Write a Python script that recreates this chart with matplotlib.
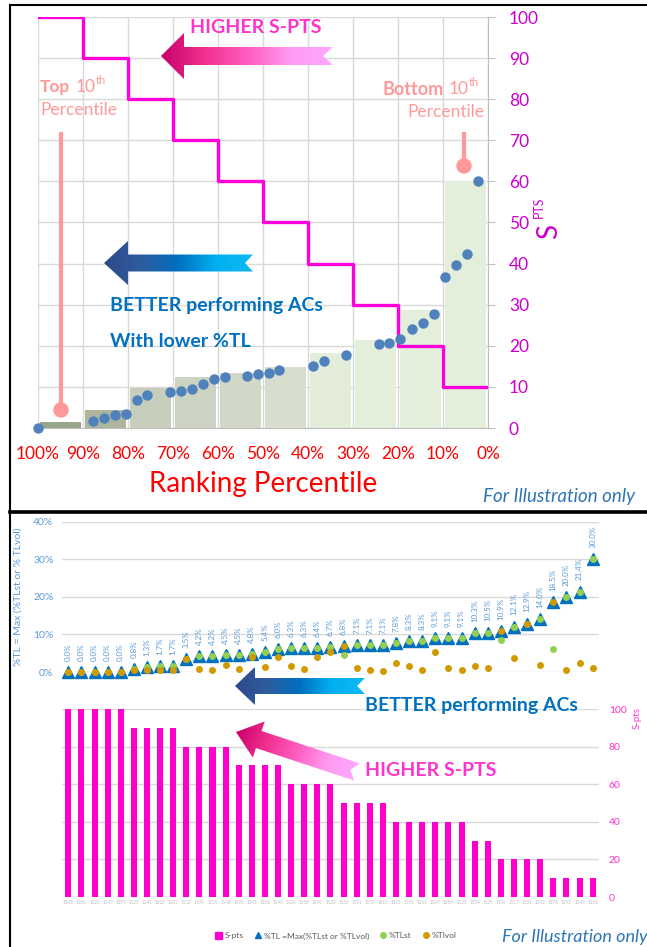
import numpy as np
import matplotlib.pyplot as plt
from matplotlib.patches import Polygon, Circle, Patch
from matplotlib.lines import Line2D
from matplotlib.colors import LinearSegmentedColormap

# ---- top panel data (ranking percentile view) ----
pct_ticks = [100, 90, 80, 70, 60, 50, 40, 30, 20, 10, 0]
decile_mid = [95, 85, 75, 65, 55, 45, 35, 25, 15, 5]
decile_tl = [1.45, 4.5, 9.7, 12.3, 13.5, 14.8, 18.3, 21.4, 28.6, 60]
decile_colors = ['#9AA68A', '#ADB69D', '#C8CEBC', '#CDD3C2', '#D2D8C7', '#D8DECE',
                 '#E3EDD9', '#E3EFDA', '#E3EFDA', '#E3EFDA']
decile_spts = [100, 90, 80, 70, 60, 50, 40, 30, 20, 10, 10]

top_pct = [100, 87.8, 85.4, 82.9, 80.5, 78.1, 75.7, 70.7, 68.3, 65.8, 63.4, 61.0, 58.5,
           53.6, 51.2, 48.7, 46.4, 38.8, 36.4, 31.6, 24.3, 21.9, 19.5, 16.9, 14.5,
           11.9, 9.6, 7.2, 4.7, 2.2]
top_tl = [0, 1.6, 2.4, 3.2, 3.4, 6.7, 8.1, 8.7, 8.9, 9.6, 10.7, 11.9, 12.3,
          12.7, 13.1, 13.3, 14.0, 15.2, 16.2, 17.7, 20.4, 20.8, 21.7, 24.0, 25.6,
          27.8, 36.7, 39.7, 42.4, 60]

# ---- bottom panel data (per AC) ----
ac_ids = ['1008', '1136', '1023', '1147', '1097', '1125', '1041', '1022', '1087', '1132',
          '1109', '1139', '1148', '1092', '1095', '1088', '1140', '1106', '1158', '1099',
          '1122', '1133', '1111', '1059', '1010', '1115', '1153', '1066', '1009', '1084',
          '1123', '1034', '1129', '1136', '1117', '1131', '1052', '1078', '1093', '1049',
          '1018']
spts = [100, 100, 100, 100, 100, 90, 90, 90, 90, 80, 80, 80, 80, 70, 70, 70, 70,
        60, 60, 60, 60, 50, 50, 50, 50, 40, 40, 40, 40, 40, 40, 30, 30,
        20, 20, 20, 20, 10, 10, 10, 10]
tl = [0.0, 0.0, 0.0, 0.0, 0.0, 0.8, 1.3, 1.7, 1.7, 3.5, 4.2, 4.2, 4.5, 4.5, 4.8, 5.4,
      6.0, 6.3, 6.3, 6.4, 6.7, 6.8, 7.1, 7.1, 7.1, 7.8, 8.3, 8.3, 9.1, 9.1, 9.1, 10.3,
      10.5, 10.9, 12.1, 12.9, 14.0, 18.5, 20.0, 21.4, 30.0]
tl_st = [0.0, 0.0, 0.0, 0.0, 0.0, 0.8, 1.3, 1.7, 1.7, 3.5, 4.2, 4.2, 4.5, 4.5, 4.8, 5.4,
         6.0, 6.3, 6.3, 6.4, 6.7, 4.6, 7.1, 7.1, 7.1, 7.8, 8.3, 8.3, 9.1, 9.1, 9.1, 10.3,
         10.5, 8.5, 12.1, 12.9, 14.0, 6.2, 20.0, 21.4, 30.0]
tl_vol = [0.0, 0.0, 0.0, 0.0, 0.0, 0.6, 0.4, 0.4, 0.4, 3.5, 0.7, 0.4, 1.75, 0.9, 3.9, 1.3,
          3.9, 1.6, 0.9, 3.9, 5.4, 6.8, 1.0, 0.6, 0.35, 2.3, 1.6, 0.4, 5.4, 1.0, 0.6, 1.5,
          1.0, 10.9, 3.8, 12.9, 1.75, 18.5, 0.6, 2.3, 1.0]

plt.rcParams['font.family'] = ['Lato', 'DejaVu Sans']

W, H = 647, 947
fig = plt.figure(figsize=(W / 100, H / 100), dpi=100)


def box(x0, y0, x1, y1):
    # pixel box (top-left origin) -> figure fraction rect
    return [x0 / W, 1 - y1 / H, (x1 - x0) / W, (y1 - y0) / H]


# ================= top chart =================
ax = fig.add_axes(box(38, 17, 488, 428))
ax.set_xlim(100, 0)
ax.set_ylim(0, 100)
ax.bar(decile_mid, decile_tl, width=9.3, color=decile_colors, zorder=2)
ax.step(pct_ticks, decile_spts, where='post', color='#FF00DD', lw=2.4, zorder=3)
ax.plot(top_pct, top_tl, 'o', ms=7.5, color='#4F81BD', mec='none', zorder=4, clip_on=False)
ax.set_xticks(pct_ticks)
ax.set_xticklabels([f'{p}%' for p in pct_ticks])
ax.set_yticks(range(0, 101, 10))
ax.yaxis.tick_right()
ax.tick_params(axis='y', colors='#BFBFBF', labelcolor='#CC00CC', length=5, pad=10, labelsize=12.5)
ax.tick_params(axis='x', length=0, pad=13, labelcolor='#FF0000', labelsize=12.5)
ax.grid(color='#D9D9D9', lw=1)
ax.set_axisbelow(True)
for s in ['left', 'top']:
    ax.spines[s].set_visible(False)
for s in ['right', 'bottom']:
    ax.spines[s].set_color('#BFBFBF')

# ================= middle chart (%TL) =================
x = np.arange(len(tl))
ax2 = fig.add_axes(box(61.75, 521.7, 599.2, 672))
ax2.set_xlim(-0.5, 40.5)
ax2.set_ylim(0, 0.4)
ax2.plot(x, np.array(tl) / 100, '^', ms=8.5, color='#0070C0', zorder=3, clip_on=False)
ax2.plot(x, np.array(tl_st) / 100, 'o', ms=4, color='#92D050', zorder=4, clip_on=False)
ax2.plot(x, np.array(tl_vol) / 100, 'o', ms=4, color='#D09A00', zorder=5, clip_on=False)
for xi, v in zip(x, tl):
    ax2.annotate(f'{v:.1f}%', (xi, v / 100), xytext=(0, 8), textcoords='offset points',
                 rotation=90, ha='center', va='bottom', fontsize=5.8, color='#5B9BD5')
ax2.set_yticks([0, 0.1, 0.2, 0.3, 0.4])
ax2.set_yticklabels(['0%', '10%', '20%', '30%', '40%'])
ax2.set_xticks([])
ax2.tick_params(axis='y', length=0, pad=6, labelsize=7.5, labelcolor='#5B9BD5')
ax2.grid(axis='y', color='#D9D9D9', lw=1)
ax2.set_axisbelow(True)
for s in ax2.spines.values():
    s.set_visible(False)

# ================= bottom chart (S-pts bars) =================
ax3 = fig.add_axes(box(61.75, 709, 599.2, 897))
ax3.set_xlim(-0.5, 40.5)
ax3.set_ylim(0, 100)
ax3.bar(x, spts, width=0.46, color='#FF00CC', zorder=2)
ax3.set_yticks(range(0, 101, 20))
ax3.yaxis.tick_right()
ax3.tick_params(axis='y', length=0, pad=7, labelsize=7.5, labelcolor='#FF33CC')
ax3.set_xticks(x)
ax3.set_xticklabels(ac_ids)
ax3.tick_params(axis='x', length=0, pad=2, labelsize=3.3, labelcolor='#BFBFBF')
ax3.grid(axis='y', color='#D9D9D9', lw=1)
ax3.set_axisbelow(True)
for s in ax3.spines.values():
    s.set_visible(False)

handles = [Patch(color='#FF00CC'),
           Line2D([], [], marker='^', ls='none', color='#0070C0', ms=5),
           Line2D([], [], marker='o', ls='none', color='#92D050', ms=4),
           Line2D([], [], marker='o', ls='none', color='#D09A00', ms=4)]
fig.legend(handles, ['S-pts', '%TL =Max(%TLst or %TLvol)', '%TLst', '%Tlvol'],
           loc='center', bbox_to_anchor=(336 / W, 1 - 936 / H), ncol=4, frameon=False,
           fontsize=6, handlelength=0.8, handleheight=0.8, handletextpad=0.3,
           columnspacing=1.3, labelcolor='#595959')

# ================= overlay (arrows, notes, frame) =================
ov = fig.add_axes([0, 0, 1, 1], zorder=10)
ov.set_xlim(0, W)
ov.set_ylim(H, 0)
ov.axis('off')


def arrow_poly(tip, tail, hl, hw, sw, notch):
    tip = np.array(tip, float)
    tail = np.array(tail, float)
    u = (tail - tip) / np.linalg.norm(tail - tip)
    v = np.array([-u[1], u[0]])
    hb = tip + u * hl
    return [tip, hb + v * hw, hb + v * sw, tail + v * sw, tail - u * notch,
            tail - v * sw, hb - v * sw, hb - v * hw]


def grad_arrow(tip, tail, hl, hw, sw, notch, colors):
    pts = np.array(arrow_poly(tip, tail, hl, hw, sw, notch))
    patch = Polygon(pts, closed=True, fc='none', ec='none')
    ov.add_patch(patch)
    x0, y0 = pts.min(0)
    x1, y1 = pts.max(0)
    gx, gy = np.meshgrid(np.linspace(x0, x1, 300), np.linspace(y0, y1, 300))
    d = np.array(tail, float) - np.array(tip, float)
    t = ((gx - tip[0]) * d[0] + (gy - tip[1]) * d[1]) / (d @ d)
    cmap = LinearSegmentedColormap.from_list('g', colors)
    im = ov.imshow(np.clip(t, 0, 1), extent=(x0, x1, y0, y1), origin='lower', cmap=cmap,
                   vmin=0, vmax=1, aspect='auto', interpolation='bilinear', zorder=5)
    im.set_clip_path(patch)


pink_cols = ['#C8006A', '#F0308F', '#FF5CC0', '#FF99F0', '#FFA8FF']
blue_cols = ['#2F4A8A', '#2E5C9E', '#0070C0', '#00B0F0', '#10B8F2']
grad_arrow((161, 56), (333, 56), 23, 23, 9, 10, pink_cols)
grad_arrow((104, 263), (253, 263), 24, 22, 8.5, 8, blue_cols)
grad_arrow((235, 686), (365, 686), 20, 19, 8, 8, blue_cols)
grad_arrow((236, 732), (357, 772), 24, 19, 9, 7, pink_cols)

# percentile pins
pin = '#FF9999'
ov.plot([61, 61], [132, 404], color=pin, lw=3, solid_capstyle='butt')
ov.add_patch(Circle((61, 410), 7, color=pin))
ov.plot([464, 464], [132, 160], color=pin, lw=3, solid_capstyle='butt')
ov.add_patch(Circle((464, 166), 7, color=pin))

ov.text(40, 87, 'Top', color=pin, fontsize=12.5, weight='bold', va='center')
ov.text(76, 87, '10', color=pin, fontsize=12.5, va='center')
ov.text(96, 80, 'th', color=pin, fontsize=8, va='center')
ov.text(40, 110, 'Percentile', color=pin, fontsize=12.5, va='center')
ov.text(382, 89, 'Bottom', color=pin, fontsize=13, weight='bold', va='center')
ov.text(449, 89, '10', color=pin, fontsize=12.5, va='center')
ov.text(469, 82, 'th', color=pin, fontsize=8, va='center')
ov.text(484, 112, 'Percentile', color=pin, fontsize=12.5, va='center', ha='right')

ov.text(190, 27, 'HIGHER S-PTS', color='#FF33CC', fontsize=14, weight='bold', va='center')
ov.text(110, 305, 'BETTER performing ACs', color='#0070C0', fontsize=14, weight='bold', va='center')
ov.text(110, 341, 'With lower %TL', color='#0070C0', fontsize=14, weight='bold', va='center')
ov.text(263, 484, 'Ranking Percentile', color='#FF0000', fontsize=20, ha='center', va='center')
ov.text(483, 496, 'For Illustration only', color='#2E75B6', fontsize=13.5, style='italic', va='center')
ov.text(549, 231, 'S', color='#CC00CC', fontsize=20, rotation=90, ha='center', va='center')
ov.text(539, 207, 'PTS', color='#CC00CC', fontsize=9, rotation=90, ha='center', va='center')

ov.text(18, 597, '%TL = Max (%TLst or % TLvol)', color='#5B9BD5', fontsize=7.5, rotation=90,
        ha='center', va='center')
ov.text(365, 705, 'BETTER performing ACs', color='#0070C0', fontsize=14, weight='bold', va='center')
ov.text(365, 770, 'HIGHER S-PTS', color='#FF33CC', fontsize=14, weight='bold', va='center')
ov.text(637, 718, 'S-pts', color='#FF33CC', fontsize=7, rotation=90, ha='center', va='center')
ov.text(502, 937, 'For Illustration only', color='#2E75B6', fontsize=13, style='italic', va='center')

# panel frame
ov.plot([10, 647], [5, 5], color='black', lw=1.5, clip_on=False)
ov.plot([10, 10], [5, 947], color='black', lw=1.5, clip_on=False)
ov.plot([10, 647], [512, 512], color='black', lw=2.6, clip_on=False)
ov.set_xlim(0, W)
ov.set_ylim(H, 0)

fig.savefig('out.png', dpi=100)
